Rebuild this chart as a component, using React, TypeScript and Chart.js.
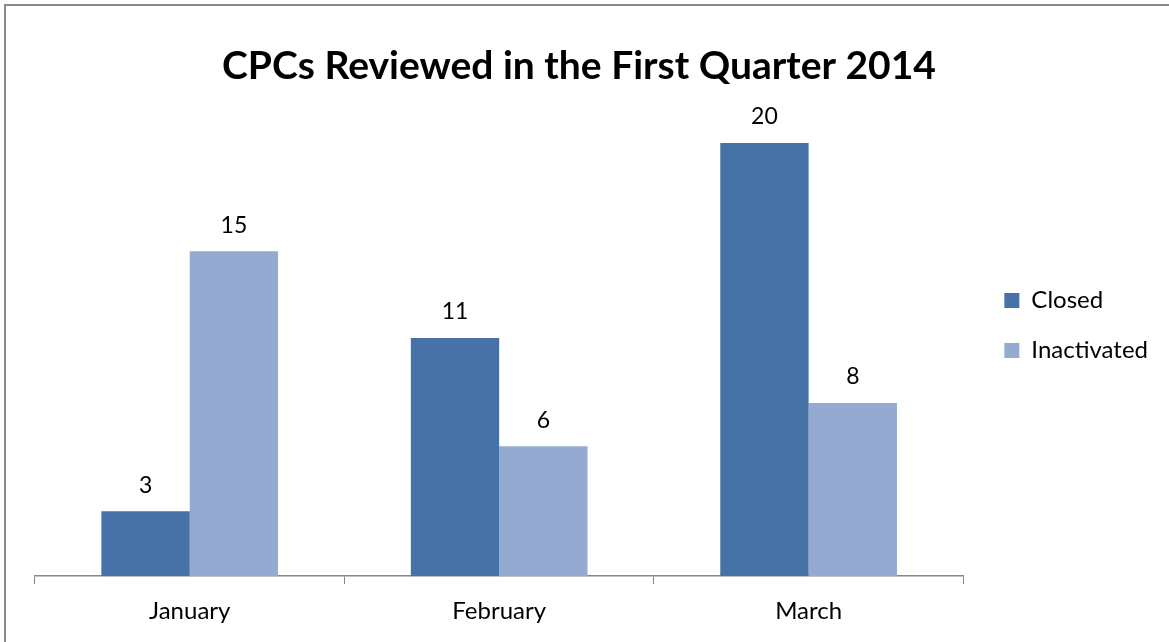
import React, { useEffect, useRef } from "react";
import { Chart, registerables } from "chart.js";

Chart.register(...registerables);

const TITLE = "CPCs Reviewed in the First Quarter 2014";
const categories = ["January", "February", "March"];
const seriesNames = ["Closed", "Inactivated"];
const closedValues = [3, 11, 20];
const inactivatedValues = [15, 6, 8];
const seriesColors = ["#4672A8", "#95AAD1"];

const FONT = "Lato, 'Noto Sans', sans-serif";

const framePlugin = {
  id: "frame",
  beforeDraw(chart: any) {
    const ctx = chart.ctx;
    ctx.save();
    ctx.fillStyle = "#ffffff";
    ctx.fillRect(0, 0, chart.width, chart.height);
    ctx.strokeStyle = "#8a8a8a";
    ctx.lineWidth = 2;
    ctx.beginPath();
    ctx.moveTo(5, chart.height + 5);
    ctx.lineTo(5, 5);
    ctx.lineTo(chart.width + 5, 5);
    ctx.stroke();
    ctx.restore();
  },
};

const valueLabelPlugin = {
  id: "valueLabels",
  afterDatasetsDraw(chart: any) {
    const ctx = chart.ctx;
    ctx.save();
    ctx.font = `23px ${FONT}`;
    ctx.fillStyle = "#000000";
    ctx.textAlign = "center";
    ctx.textBaseline = "middle";
    chart.data.datasets.forEach((ds: any, i: number) => {
      const meta = chart.getDatasetMeta(i);
      meta.data.forEach((el: any, j: number) => {
        ctx.fillText(String(ds.data[j]), el.x, el.y - 26);
      });
    });
    ctx.restore();
  },
};

export default function App() {
  const ref = useRef<HTMLCanvasElement>(null);
  useEffect(() => {
    if (!ref.current) return;
    const chart = new Chart(ref.current, {
      type: "bar",
      data: {
        labels: categories,
        datasets: [
          {
            label: seriesNames[0],
            data: closedValues,
            backgroundColor: seriesColors[0],
            barPercentage: 1,
            categoryPercentage: 0.571,
          },
          {
            label: seriesNames[1],
            data: inactivatedValues,
            backgroundColor: seriesColors[1],
            barPercentage: 1,
            categoryPercentage: 0.571,
          },
        ],
      },
      options: {
        responsive: false,
        animation: false,
        layout: { padding: { left: 0, right: 11, top: 12, bottom: 3 } },
        plugins: {
          title: {
            display: true,
            text: TITLE,
            color: "#000000",
            font: { family: FONT, size: 39, weight: "bold" },
            padding: { top: 30.6, bottom: 10.3 },
          },
          legend: {
            display: true,
            position: "right",
            labels: {
              color: "#000000",
              font: { family: FONT, size: 24 },
              boxWidth: 15,
              boxHeight: 15,
              padding: 26,
            },
          },
          tooltip: { enabled: false },
        },
        scales: {
          x: {
            grid: {
              display: true,
              drawOnChartArea: false,
              drawTicks: true,
              tickLength: 8,
              color: "#868686",
              offset: true,
            },
            border: { display: true, color: "#868686", width: 1.5 },
            ticks: {
              color: "#000000",
              font: { family: FONT, size: 24 },
              padding: 13,
            },
          },
          y: {
            display: false,
            min: 0,
            max: 22,
          },
          yLeftPad: {
            position: "left",
            display: true,
            grid: { display: false, drawTicks: false },
            ticks: { display: false },
            border: { display: false },
            afterFit(scale: any) {
              scale.width = 35;
            },
          },
          yPad: {
            position: "right",
            display: true,
            grid: { display: false, drawTicks: false },
            ticks: { display: false },
            border: { display: false },
            afterFit(scale: any) {
              scale.width = 15;
            },
          },
        },
      } as any,
      plugins: [framePlugin, valueLabelPlugin],
    });
    return () => chart.destroy();
  }, []);
  return (
    <div style={{ position: "absolute", left: 0, top: 0 }}>
      <canvas ref={ref} width={1169} height={642} />
    </div>
  );
}
